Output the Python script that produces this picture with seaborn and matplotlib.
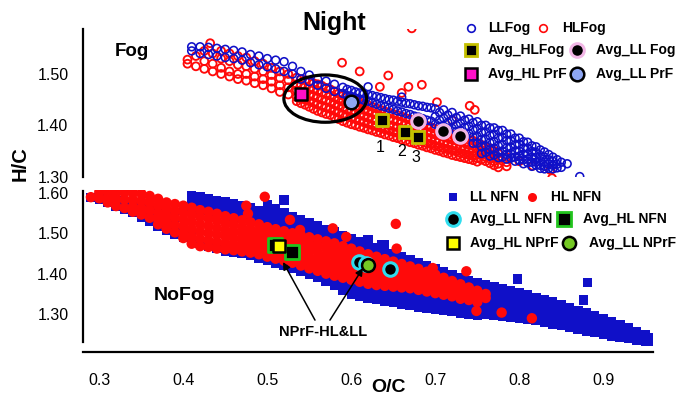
import matplotlib
matplotlib.use("Agg")
import matplotlib.pyplot as plt
import seaborn as sns
import pandas as pd
from matplotlib.patches import Ellipse

# ---------------- data (O/C, [H/C values]) ----------------
# Fog panel: LL fog points (blue open circles)
LL_FOG = [
    (0.41, [1.553, 1.545]), (0.42, [1.553, 1.54]), (0.43, [1.552, 1.538]),
    (0.44, [1.55, 1.535]), (0.45, [1.548, 1.532]), (0.46, [1.546, 1.53]),
    (0.47, [1.543, 1.527]), (0.48, [1.538, 1.522]), (0.49, [1.535, 1.518]),
    (0.50, [1.53, 1.514]), (0.51, [1.527, 1.51]), (0.52, [1.524, 1.505]),
    (0.53, [1.515, 1.50]), (0.54, [1.505, 1.49]), (0.55, [1.498, 1.485]),
    (0.56, [1.49, 1.478]), (0.57, [1.486, 1.472]), (0.58, [1.48, 1.466]),
    (0.59, [1.474, 1.462]), (0.60, [1.468, 1.456]), (0.61, [1.463, 1.451]),
    (0.62, [1.46, 1.447]), (0.63, [1.456, 1.441]), (0.64, [1.452, 1.436]),
    (0.65, [1.449, 1.431]), (0.66, [1.445, 1.426]), (0.67, [1.442, 1.421]),
    (0.68, [1.438, 1.416]), (0.69, [1.435, 1.41]), (0.70, [1.432, 1.417, 1.402]),
    (0.71, [1.43, 1.414, 1.398]), (0.72, [1.425, 1.41, 1.394]),
    (0.73, [1.418, 1.404, 1.39]), (0.74, [1.412, 1.398, 1.384]),
    (0.75, [1.407, 1.393, 1.378, 1.365]),
    (0.76, [1.40, 1.387, 1.373, 1.36, 1.347]),
    (0.77, [1.395, 1.382, 1.368, 1.355, 1.342]),
    (0.78, [1.39, 1.376, 1.362, 1.35, 1.338]),
    (0.79, [1.383, 1.37, 1.357, 1.345, 1.336]),
    (0.80, [1.375, 1.363, 1.35, 1.34, 1.332]),
    (0.81, [1.367, 1.355, 1.344, 1.334, 1.327]),
    (0.82, [1.358, 1.347, 1.337, 1.328, 1.322]),
    (0.83, [1.348, 1.338, 1.328, 1.32, 1.315]),
    (0.84, [1.338, 1.33, 1.322, 1.315]), (0.85, [1.328, 1.318]),
    (0.595, [1.47, 1.458]), (0.605, [1.465, 1.453]), (0.615, [1.462, 1.449]),
    (0.625, [1.458, 1.444]), (0.635, [1.454, 1.438]), (0.645, [1.45, 1.433]),
    (0.655, [1.447, 1.428]), (0.665, [1.443, 1.423]), (0.675, [1.44, 1.418]),
    (0.685, [1.437, 1.413]), (0.695, [1.434, 1.408]), (0.705, [1.425, 1.41, 1.398]),
    (0.715, [1.42, 1.405, 1.394]), (0.725, [1.415, 1.40, 1.388]),
    (0.735, [1.41, 1.396, 1.382]), (0.745, [1.405, 1.391, 1.377, 1.365]),
    (0.755, [1.40, 1.386, 1.372, 1.358, 1.345]), (0.765, [1.395, 1.38, 1.366, 1.352, 1.34]),
    (0.775, [1.39, 1.375, 1.36, 1.347, 1.337]), (0.785, [1.383, 1.37, 1.356, 1.343, 1.334]),
    (0.795, [1.375, 1.362, 1.35, 1.338, 1.33]), (0.805, [1.368, 1.356, 1.344, 1.333, 1.325]),
    (0.815, [1.36, 1.349, 1.338, 1.328, 1.32]), (0.825, [1.352, 1.341, 1.331, 1.322, 1.316]),
    (0.835, [1.343, 1.333, 1.324, 1.316]), (0.845, [1.333, 1.324, 1.317]),
    (0.872, [1.30]), (0.857, [1.325]), (0.62, [1.475]), (0.66, [1.455]),
]
# Fog panel: HL fog points (red open circles)
HL_FOG = [
    (0.405, [1.528, 1.52]), (0.415, [1.535, 1.515]), (0.425, [1.545, 1.525, 1.51]),
    (0.432, [1.56]), (0.435, [1.54, 1.52, 1.505]), (0.445, [1.545, 1.53, 1.512, 1.50]),
    (0.455, [1.54, 1.525, 1.505, 1.495]), (0.465, [1.535, 1.518, 1.50, 1.49]),
    (0.475, [1.532, 1.515, 1.50, 1.487]), (0.485, [1.525, 1.51, 1.495, 1.482]),
    (0.495, [1.52, 1.505, 1.49, 1.478]), (0.505, [1.512, 1.498, 1.485, 1.472]),
    (0.515, [1.505, 1.492, 1.478, 1.465]), (0.525, [1.50, 1.488, 1.474, 1.46]),
    (0.535, [1.493, 1.48, 1.468, 1.455, 1.447]),
    (0.545, [1.488, 1.475, 1.462, 1.45, 1.44]),
    (0.555, [1.482, 1.47, 1.457, 1.444, 1.432]),
    (0.565, [1.477, 1.464, 1.45, 1.438, 1.425]),
    (0.575, [1.47, 1.458, 1.445, 1.432, 1.42]),
    (0.585, [1.462, 1.45, 1.438, 1.425, 1.412]),
    (0.595, [1.455, 1.443, 1.43, 1.418, 1.405]),
    (0.605, [1.448, 1.436, 1.424, 1.412, 1.40]),
    (0.615, [1.442, 1.43, 1.418, 1.406, 1.395]),
    (0.625, [1.436, 1.424, 1.412, 1.40, 1.39]),
    (0.635, [1.43, 1.418, 1.406, 1.395, 1.385]),
    (0.645, [1.425, 1.413, 1.40, 1.39, 1.38]),
    (0.655, [1.42, 1.408, 1.396, 1.385, 1.375]),
    (0.665, [1.414, 1.402, 1.39, 1.38, 1.37]),
    (0.675, [1.408, 1.396, 1.385, 1.374, 1.365]),
    (0.685, [1.402, 1.39, 1.379, 1.368, 1.36]),
    (0.695, [1.396, 1.385, 1.374, 1.363, 1.355]),
    (0.705, [1.39, 1.38, 1.369, 1.358, 1.35]),
    (0.715, [1.385, 1.375, 1.364, 1.353, 1.345]),
    (0.725, [1.38, 1.37, 1.359, 1.349, 1.34]),
    (0.735, [1.375, 1.365, 1.354, 1.344, 1.336]),
    (0.745, [1.37, 1.36, 1.35, 1.34, 1.332]),
    (0.755, [1.362, 1.352, 1.342, 1.333]), (0.765, [1.355, 1.345, 1.335, 1.326]),
    (0.775, [1.345, 1.335, 1.325, 1.318]), (0.785, [1.338, 1.328, 1.32]),
    (0.54, [1.49, 1.478, 1.465, 1.452, 1.443]), (0.55, [1.485, 1.472, 1.46, 1.447, 1.436]),
    (0.56, [1.48, 1.467, 1.454, 1.441, 1.428]), (0.57, [1.473, 1.461, 1.448, 1.435, 1.422]),
    (0.58, [1.466, 1.454, 1.441, 1.428, 1.416]), (0.59, [1.458, 1.446, 1.434, 1.421, 1.408]),
    (0.60, [1.451, 1.44, 1.427, 1.415, 1.402]), (0.61, [1.445, 1.433, 1.421, 1.409, 1.397]),
    (0.62, [1.439, 1.427, 1.415, 1.403, 1.392]), (0.63, [1.433, 1.421, 1.409, 1.398, 1.387]),
    (0.64, [1.427, 1.415, 1.403, 1.392, 1.382]), (0.65, [1.422, 1.41, 1.398, 1.387, 1.377]),
    (0.66, [1.417, 1.405, 1.393, 1.382, 1.372]), (0.67, [1.411, 1.399, 1.387, 1.377, 1.367]),
    (0.68, [1.405, 1.393, 1.382, 1.371, 1.362]), (0.69, [1.399, 1.387, 1.376, 1.365, 1.357]),
    (0.70, [1.393, 1.382, 1.371, 1.36, 1.352]), (0.71, [1.387, 1.377, 1.366, 1.355, 1.347]),
    (0.72, [1.382, 1.372, 1.361, 1.351, 1.342]), (0.73, [1.377, 1.367, 1.356, 1.346, 1.338]),
    (0.74, [1.372, 1.362, 1.352, 1.342, 1.334]), (0.75, [1.366, 1.356, 1.346, 1.336, 1.329]),
    (0.76, [1.358, 1.348, 1.338, 1.33]), (0.77, [1.35, 1.34, 1.33, 1.322]),
    (0.672, [1.589]), (0.589, [1.522]), (0.61, [1.505]), (0.644, [1.497]),
    (0.634, [1.475]), (0.66, [1.463]), (0.668, [1.475]), (0.684, [1.479]),
    (0.702, [1.445]), (0.741, [1.438]), (0.747, [1.43]), (0.816, [1.321]),
    (0.839, [1.297]), (0.837, [1.313]), (0.80, [1.33]), (0.72, [1.41]),
]
# Fog panel averages
AVG_HL_FOG_X = [0.636, 0.664, 0.680]
AVG_HL_FOG_Y = [1.410, 1.3875, 1.378]
AVG_LL_FOG_X = [0.680, 0.7095, 0.7294]
AVG_LL_FOG_Y = [1.4084, 1.3895, 1.3797]
AVG_HL_PRF_X = [0.5398]
AVG_HL_PRF_Y = [1.461]
AVG_LL_PRF_X = [0.5993]
AVG_LL_PRF_Y = [1.446]

# NoFog panel: LL NFN points (blue squares)
LL_NFN = [
    (0.29, [1.588]), (0.30, [1.59, 1.583]), (0.31, [1.585, 1.575]),
    (0.32, [1.58, 1.567]), (0.33, [1.575, 1.56]), (0.34, [1.568, 1.552]),
    (0.35, [1.562, 1.545, 1.538]), (0.36, [1.556, 1.54, 1.528]),
    (0.37, [1.55, 1.535, 1.518]), (0.38, [1.545, 1.525, 1.507]),
    (0.39, [1.54, 1.515, 1.497]), (0.40, [1.56, 1.51, 1.49]),
    (0.41, [1.594, 1.578, 1.562, 1.495, 1.48]), (0.42, [1.59, 1.575, 1.56, 1.475]),
    (0.43, [1.585, 1.57, 1.556, 1.468]), (0.44, [1.58, 1.565, 1.552, 1.462]),
    (0.45, [1.577, 1.56, 1.546, 1.456]), (0.46, [1.572, 1.556, 1.542, 1.452]),
    (0.47, [1.567, 1.552, 1.538, 1.449]), (0.48, [1.562, 1.548, 1.534, 1.444]),
    (0.49, [1.556, 1.542, 1.528, 1.438]), (0.50, [1.57, 1.555, 1.54, 1.525, 1.432]),
    (0.51, [1.56, 1.545, 1.53, 1.518, 1.426, 1.43]),
    (0.52, [1.582, 1.55, 1.535, 1.52, 1.42]), (0.53, [1.542, 1.527, 1.512, 1.413]),
    (0.54, [1.533, 1.518, 1.505, 1.405]), (0.55, [1.526, 1.511, 1.498, 1.398]),
    (0.56, [1.518, 1.504, 1.49, 1.39, 1.398]), (0.57, [1.51, 1.496, 1.485, 1.38, 1.392]),
    (0.58, [1.503, 1.489, 1.478, 1.37, 1.385]), (0.59, [1.495, 1.482, 1.47, 1.36, 1.375]),
    (0.60, [1.487, 1.474, 1.35, 1.366]), (0.61, [1.48, 1.467, 1.345, 1.36, 1.372]),
    (0.62, [1.483, 1.472, 1.46, 1.34, 1.355, 1.368]),
    (0.63, [1.465, 1.452, 1.336, 1.35, 1.364]),
    (0.64, [1.471, 1.458, 1.446, 1.332, 1.346, 1.36]),
    (0.65, [1.45, 1.44, 1.328, 1.342, 1.356]), (0.66, [1.442, 1.432, 1.325, 1.34, 1.355]),
    (0.67, [1.435, 1.425, 1.322, 1.337, 1.352]), (0.68, [1.428, 1.418, 1.318, 1.333, 1.348]),
    (0.69, [1.42, 1.41, 1.315, 1.33, 1.345]), (0.70, [1.412, 1.403, 1.312, 1.327, 1.342]),
    (0.71, [1.405, 1.395, 1.309, 1.324, 1.338]), (0.72, [1.398, 1.388, 1.306, 1.32, 1.335]),
    (0.73, [1.39, 1.38, 1.303, 1.317, 1.33]), (0.74, [1.383, 1.372, 1.30, 1.314, 1.327]),
    (0.75, [1.377, 1.364, 1.297, 1.311, 1.325]),
    (0.76, [1.372, 1.357, 1.342, 1.328, 1.314, 1.30]),
    (0.77, [1.367, 1.352, 1.338, 1.324, 1.31, 1.297]),
    (0.78, [1.362, 1.347, 1.333, 1.32, 1.307, 1.294]),
    (0.79, [1.358, 1.343, 1.329, 1.316, 1.304, 1.292]),
    (0.80, [1.354, 1.339, 1.325, 1.312, 1.30, 1.29]),
    (0.81, [1.348, 1.334, 1.32, 1.308, 1.297, 1.287]),
    (0.82, [1.342, 1.328, 1.315, 1.304, 1.294, 1.284]),
    (0.83, [1.336, 1.322, 1.31, 1.299, 1.289, 1.28]),
    (0.84, [1.33, 1.316, 1.304, 1.294, 1.285, 1.276]),
    (0.85, [1.323, 1.31, 1.298, 1.288, 1.28, 1.272]),
    (0.86, [1.316, 1.304, 1.292, 1.282, 1.275, 1.268]),
    (0.87, [1.31, 1.297, 1.286, 1.276, 1.269, 1.263]),
    (0.88, [1.303, 1.29, 1.279, 1.27, 1.263, 1.258]),
    (0.89, [1.296, 1.284, 1.273, 1.264, 1.256]), (0.90, [1.288, 1.277, 1.267, 1.258, 1.25]),
    (0.91, [1.281, 1.27, 1.26, 1.252, 1.246]), (0.92, [1.274, 1.263, 1.254, 1.246, 1.242]),
    (0.93, [1.266, 1.256, 1.247, 1.24]), (0.94, [1.258, 1.248, 1.24, 1.235]),
    (0.95, [1.25, 1.241, 1.233]), (0.955, [1.243, 1.234]),
    (0.798, [1.387]), (0.881, [1.378]), (0.876, [1.335]), (0.636, [1.471]),
]
# NoFog panel: HL NFN points (red dots)
HL_NFN = [
    (0.29, [1.589]), (0.30, [1.602, 1.586]), (0.31, [1.602, 1.588, 1.576]),
    (0.32, [1.60, 1.584, 1.567]), (0.33, [1.60, 1.583, 1.562]),
    (0.34, [1.60, 1.583, 1.566, 1.553]), (0.35, [1.598, 1.58, 1.562, 1.546]),
    (0.36, [1.592, 1.575, 1.557, 1.538]), (0.37, [1.585, 1.568, 1.55, 1.535, 1.522]),
    (0.38, [1.576, 1.56, 1.543, 1.527, 1.511]), (0.39, [1.572, 1.555, 1.538, 1.52, 1.502]),
    (0.40, [1.568, 1.551, 1.534, 1.517, 1.50, 1.488]),
    (0.41, [1.563, 1.546, 1.528, 1.51, 1.492, 1.474]),
    (0.42, [1.557, 1.54, 1.522, 1.504, 1.486, 1.468]),
    (0.43, [1.553, 1.536, 1.518, 1.50, 1.482, 1.466]),
    (0.44, [1.548, 1.531, 1.513, 1.496, 1.478, 1.462]),
    (0.45, [1.542, 1.525, 1.508, 1.492, 1.475, 1.46]),
    (0.46, [1.537, 1.52, 1.503, 1.487, 1.471, 1.458]),
    (0.47, [1.532, 1.515, 1.499, 1.483, 1.468, 1.455]),
    (0.48, [1.527, 1.51, 1.494, 1.479, 1.465, 1.452]),
    (0.49, [1.522, 1.505, 1.49, 1.475, 1.461, 1.448]),
    (0.50, [1.515, 1.50, 1.485, 1.47, 1.456, 1.442]),
    (0.51, [1.51, 1.495, 1.48, 1.465, 1.451, 1.437]),
    (0.52, [1.505, 1.49, 1.475, 1.46, 1.446, 1.432]),
    (0.53, [1.50, 1.485, 1.47, 1.455, 1.441, 1.427]),
    (0.54, [1.495, 1.48, 1.464, 1.449, 1.434, 1.42]),
    (0.55, [1.49, 1.474, 1.458, 1.442, 1.427, 1.413]),
    (0.56, [1.485, 1.469, 1.453, 1.437, 1.421, 1.407]),
    (0.57, [1.48, 1.464, 1.447, 1.431, 1.415, 1.40]),
    (0.58, [1.475, 1.458, 1.442, 1.426, 1.41, 1.395]),
    (0.59, [1.468, 1.452, 1.436, 1.42, 1.405, 1.39]),
    (0.60, [1.462, 1.446, 1.43, 1.414, 1.40, 1.385]),
    (0.61, [1.455, 1.44, 1.424, 1.409, 1.394, 1.38]),
    (0.62, [1.448, 1.433, 1.418, 1.403, 1.389, 1.375]),
    (0.63, [1.442, 1.427, 1.412, 1.398, 1.385, 1.372]),
    (0.64, [1.436, 1.421, 1.407, 1.394, 1.381, 1.37]),
    (0.65, [1.43, 1.415, 1.401, 1.388, 1.376, 1.368]),
    (0.66, [1.424, 1.41, 1.396, 1.383, 1.372, 1.366]),
    (0.67, [1.418, 1.404, 1.391, 1.378, 1.364]), (0.68, [1.412, 1.398, 1.385, 1.372, 1.36]),
    (0.69, [1.405, 1.392, 1.379, 1.367, 1.356]), (0.70, [1.398, 1.385, 1.373, 1.362, 1.352]),
    (0.71, [1.39, 1.378, 1.366, 1.356, 1.348]), (0.72, [1.382, 1.37, 1.359, 1.35, 1.344]),
    (0.73, [1.374, 1.362, 1.351, 1.342, 1.338]), (0.74, [1.366, 1.355, 1.345, 1.335]),
    (0.75, [1.358, 1.347, 1.338, 1.33]), (0.76, [1.35, 1.34]),
    (0.497, [1.59]), (0.475, [1.568]), (0.477, [1.548]), (0.527, [1.533]),
    (0.539, [1.508]), (0.578, [1.512]), (0.594, [1.491]), (0.653, [1.523]),
    (0.654, [1.462]), (0.697, [1.414]), (0.737, [1.406]), (0.749, [1.308]),
    (0.779, [1.304]), (0.815, [1.29]),
]
# NoFog panel averages
AVG_LL_NFN_X = [0.6095, 0.618, 0.6461]
AVG_LL_NFN_Y = [1.4296, 1.4235, 1.4113]
AVG_HL_NFN_X = [0.5094, 0.530]
AVG_HL_NFN_Y = [1.4709, 1.4543]
AVG_HL_NPRF_X = [0.5143]
AVG_HL_NPRF_Y = [1.4684]
AVG_LL_NPRF_X = [0.6202]
AVG_LL_NPRF_Y = [1.4225]

X_TICKS = [0.3, 0.4, 0.5, 0.6, 0.7, 0.8, 0.9]
TOP_Y_TICKS = [1.30, 1.40, 1.50]
BOT_Y_TICKS = [1.30, 1.40, 1.50, 1.60]

BLUE = "#1010C8"
RED = "#FF0A0A"


def frame(cols):
    xs, ys = [], []
    for x, yl in cols:
        for y in yl:
            xs.append(x)
            ys.append(y)
    return pd.DataFrame({"oc": xs, "hc": ys})


def frame_xy(xs, ys):
    return pd.DataFrame({"oc": xs, "hc": ys})


sns.set_style("white")
plt.rcParams["font.family"] = ["Liberation Sans", "DejaVu Sans"]
for key in ("text.color", "axes.labelcolor", "xtick.color", "ytick.color", "axes.edgecolor"):
    plt.rcParams[key] = "black"

W, H = 677, 399
fig = plt.figure(figsize=(W / 100, H / 100), dpi=100)

XL = (0.2806, 0.9592)
ax_t = fig.add_axes([83 / W, 1 - 177 / H, 570 / W, 148 / H])
ax_b = fig.add_axes([83 / W, 1 - 351.7 / H, 570 / W, 161.7 / H])

for ax in (ax_t, ax_b):
    ax.set_facecolor("none")
    ax.set_xlim(*XL)
    for s in ("top", "right"):
        ax.spines[s].set_visible(False)
    for s in ("left", "bottom"):
        ax.spines[s].set_linewidth(1.6)
        ax.spines[s].set_color("black")
    ax.tick_params(axis="both", direction="out", length=6.5, width=1.6,
                   labelsize=11.5, colors="black", pad=4)

ax_t.set_ylim(1.2992, 1.5877)
ax_t.spines["bottom"].set_visible(False)
ax_t.set_xticks([])
ax_t.set_yticks(TOP_Y_TICKS)
ax_t.set_yticklabels([f"{v:.2f}" for v in TOP_Y_TICKS])
ax_t.spines["left"].set_bounds(1.2992, 1.5877)

ax_b.set_ylim(1.2074, 1.6067)
ax_b.set_yticks(BOT_Y_TICKS)
ax_b.set_yticklabels([f"{v:.2f}" for v in BOT_Y_TICKS])
ax_b.spines["left"].set_bounds(1.232, 1.605)
ax_b.set_xticks(X_TICKS)
ax_b.set_xticklabels([f"{v:.1f}" for v in X_TICKS])
ax_b.tick_params(axis="x", pad=8.5)

# ---------------- fog panel ----------------
sns.scatterplot(data=frame(HL_FOG), x="oc", y="hc", ax=ax_t, marker="o", s=32,
                facecolor="none", edgecolor=RED, linewidth=1.35, legend=False, zorder=2)
sns.scatterplot(data=frame(LL_FOG), x="oc", y="hc", ax=ax_t, marker="o", s=32,
                facecolor="none", edgecolor=BLUE, linewidth=1.15, legend=False, zorder=3)
sns.scatterplot(data=frame_xy(AVG_HL_FOG_X, AVG_HL_FOG_Y), x="oc", y="hc", ax=ax_t,
                marker="s", s=85, facecolor="black", edgecolor="#C4C000", linewidth=2.0,
                legend=False, zorder=5)
sns.scatterplot(data=frame_xy(AVG_LL_FOG_X, AVG_LL_FOG_Y), x="oc", y="hc", ax=ax_t,
                marker="o", s=95, facecolor="black", edgecolor="#F2B6E6", linewidth=2.2,
                legend=False, zorder=5)
sns.scatterplot(data=frame_xy(AVG_HL_PRF_X, AVG_HL_PRF_Y), x="oc", y="hc", ax=ax_t,
                marker="s", s=85, facecolor="#FF10C8", edgecolor="black", linewidth=1.8,
                legend=False, zorder=5)
sns.scatterplot(data=frame_xy(AVG_LL_PRF_X, AVG_LL_PRF_Y), x="oc", y="hc", ax=ax_t,
                marker="o", s=95, facecolor="#8EA6F2", edgecolor="black", linewidth=1.8,
                legend=False, zorder=5)
ax_t.add_patch(Ellipse((0.569, 1.452), 0.0985, 0.0922, fill=False,
                       edgecolor="black", linewidth=2.3, zorder=6))
ax_t.set_xlabel("")
ax_t.set_ylabel("")

# ---------------- no-fog panel ----------------
sns.scatterplot(data=frame(LL_NFN), x="oc", y="hc", ax=ax_b, marker="s", s=44,
                color=BLUE, edgecolor="none", linewidth=0, legend=False, zorder=2)
sns.scatterplot(data=frame(HL_NFN), x="oc", y="hc", ax=ax_b, marker="o", s=56,
                color=RED, edgecolor="none", linewidth=0, legend=False, zorder=3)
sns.scatterplot(data=frame_xy(AVG_HL_NFN_X, AVG_HL_NFN_Y), x="oc", y="hc", ax=ax_b,
                marker="s", s=95, facecolor="black", edgecolor="#22C41E", linewidth=2.0,
                legend=False, zorder=5)
sns.scatterplot(data=frame_xy(AVG_LL_NFN_X, AVG_LL_NFN_Y), x="oc", y="hc", ax=ax_b,
                marker="o", s=95, facecolor="black", edgecolor="#30DDEE", linewidth=2.2,
                legend=False, zorder=5)
sns.scatterplot(data=frame_xy(AVG_HL_NPRF_X, AVG_HL_NPRF_Y), x="oc", y="hc", ax=ax_b,
                marker="s", s=80, facecolor="#FFFF00", edgecolor="black", linewidth=1.8,
                legend=False, zorder=6)
sns.scatterplot(data=frame_xy(AVG_LL_NPRF_X, AVG_LL_NPRF_Y), x="oc", y="hc", ax=ax_b,
                marker="o", s=85, facecolor="#74C824", edgecolor="black", linewidth=1.8,
                legend=False, zorder=6)
ax_b.set_xlabel("")
ax_b.set_ylabel("")

arrow = dict(arrowstyle="-|>", color="black", lw=1.1, mutation_scale=11,
             shrinkA=0, shrinkB=0)
ax_b.annotate("", xy=(0.5187, 1.4289), xytext=(0.5568, 1.2854), arrowprops=arrow, zorder=7)
ax_b.annotate("", xy=(0.6139, 1.4141), xytext=(0.5746, 1.2854), arrowprops=arrow, zorder=7)

# ---------------- overlay: titles, labels, legends (pixel coordinates) ----------------
ov = fig.add_axes([0, 0, 1, 1])
ov.set_xlim(0, W)
ov.set_ylim(H, 0)
ov.axis("off")

ov.text(334, 23, "Night", fontsize=18, fontweight="bold", ha="center", va="center")
ov.text(132, 52, "Fog", fontsize=13.5, fontweight="bold", ha="center", va="center")
ov.text(185, 296, "NoFog", fontsize=14, fontweight="bold", ha="center", va="center")
ov.text(20, 164, "H/C", fontsize=14.5, fontweight="bold", ha="center", va="center",
        rotation=90)
ov.text(389, 388, "O/C", fontsize=14, fontweight="bold", ha="center", va="center")
ov.text(323, 332, "NPrF-HL&LL", fontsize=10.5, fontweight="bold", ha="center", va="center")
for (tx, ty), lab in zip([(380, 148), (402, 152), (416, 157)], ["1", "2", "3"]):
    ov.text(tx, ty, lab, fontsize=11.5, ha="center", va="center")


def leg(x, y, marker, ms, fc, ec, mew, label, tx):
    ov.plot([x], [y], marker=marker, markersize=ms, markerfacecolor=fc,
            markeredgecolor=ec, markeredgewidth=mew, linestyle="none")
    ov.text(tx, y, label, fontsize=10, fontweight="bold", ha="left", va="center")


leg(471, 28, "o", 5.5, "none", BLUE, 1.2, "LLFog", 488)
leg(543, 28, "o", 5.5, "none", RED, 1.2, "HLFog", 562)
leg(471, 50, "s", 9.2, "black", "#C4C000", 2.0, "Avg_HLFog", 488)
leg(577, 50, "o", 9.8, "black", "#F2B6E6", 2.2, "Avg_LL Fog", 596)
leg(471, 74, "s", 9.2, "#FF10C8", "black", 1.8, "Avg_HL PrF", 488)
leg(577, 74, "o", 9.8, "#8EA6F2", "black", 1.8, "Avg_LL PrF", 596)

leg(453, 197, "s", 5.5, BLUE, "none", 0, "LL NFN", 470)
leg(532, 197, "o", 6.5, RED, "none", 0, "HL NFN", 551)
leg(453, 219, "o", 9.8, "black", "#30DDEE", 2.2, "Avg_LL NFN", 470)
leg(564, 219, "s", 9.5, "black", "#22C41E", 2.0, "Avg_HL NFN", 583)
leg(453, 243, "s", 9.0, "#FFFF00", "black", 1.8, "Avg_HL NPrF", 470)
leg(569, 243, "o", 9.5, "#74C824", "black", 1.8, "Avg_LL NPrF", 589)

fig.savefig("out.png", dpi=100)
